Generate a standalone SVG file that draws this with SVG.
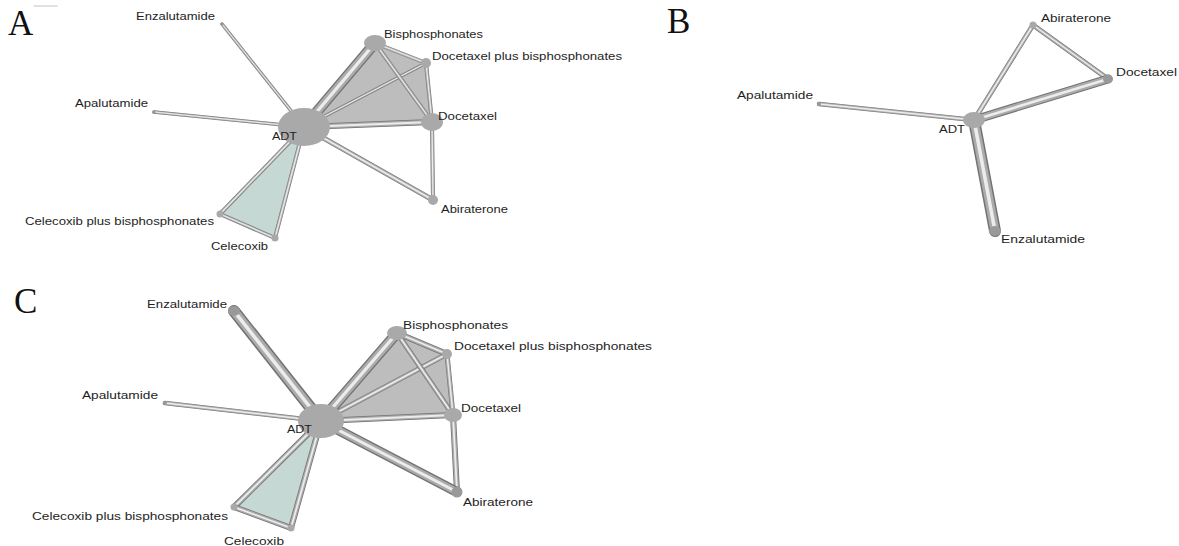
<svg xmlns="http://www.w3.org/2000/svg" width="1179" height="546" viewBox="0 0 1179 546">
<style>
.bg{fill:#ffffff}
.panel{font-family:"Liberation Serif","Times New Roman",serif;font-size:35px;fill:#111}
.lbl{font-family:"Liberation Sans",Arial,sans-serif;font-size:10px;fill:#1e1e1e}
.nd{fill:#a9a9a9}
.end{fill:#999999}
.grey{fill:#bdbdbd;stroke:none}
.teal{fill:#c6d8d4;stroke:none}
line{stroke-linecap:round;fill:none}
.o{stroke:#737373}
.m{stroke:#ababab}
.i{stroke:#ececec}
</style>
<rect class="bg" x="0" y="0" width="1179" height="546"/>
<line x1="34" y1="6" x2="57" y2="6" style="stroke:#d8d8d8;stroke-width:1.5"/>
<text class="panel" x="8" y="35">A</text>
<text class="panel" x="667" y="33">B</text>
<text class="panel" x="14" y="313">C</text>

<g id="connectors">
<!-- Panel A -->
<polygon class="grey" points="304,127 375,43 426,63 432,122"/>
<polygon class="teal" points="304,127 220,214 275,238"/>
<g><line class="o" x1="304" y1="127" x2="222" y2="24" stroke-width="3.5"/><line class="m" x1="304" y1="127" x2="222" y2="24" stroke-width="2.5"/><line class="i" x1="304" y1="127" x2="222" y2="24" stroke-width="1"/></g>
<g><line class="o" x1="304" y1="127" x2="154" y2="112" stroke-width="3.5"/><line class="m" x1="304" y1="127" x2="154" y2="112" stroke-width="2.5"/><line class="i" x1="304" y1="127" x2="154" y2="112" stroke-width="1"/></g>
<g><line class="o" x1="304" y1="127" x2="220" y2="214" stroke-width="4"/><line class="m" x1="304" y1="127" x2="220" y2="214" stroke-width="3"/><line class="i" x1="304" y1="127" x2="220" y2="214" stroke-width="1.2"/></g>
<g><line class="o" x1="304" y1="127" x2="275" y2="238" stroke-width="4"/><line class="m" x1="304" y1="127" x2="275" y2="238" stroke-width="3"/><line class="i" x1="304" y1="127" x2="275" y2="238" stroke-width="1.2"/></g>
<g><line class="o" x1="220" y1="214" x2="275" y2="238" stroke-width="4"/><line class="m" x1="220" y1="214" x2="275" y2="238" stroke-width="3"/><line class="i" x1="220" y1="214" x2="275" y2="238" stroke-width="1.2"/></g>
<g><line class="o" x1="304" y1="127" x2="426" y2="63" stroke-width="3.5"/><line class="m" x1="304" y1="127" x2="426" y2="63" stroke-width="2.5"/><line class="i" x1="304" y1="127" x2="426" y2="63" stroke-width="1"/></g>
<g><line class="o" x1="375" y1="43" x2="432" y2="122" stroke-width="4"/><line class="m" x1="375" y1="43" x2="432" y2="122" stroke-width="3"/><line class="i" x1="375" y1="43" x2="432" y2="122" stroke-width="1.2"/></g>
<g><line class="o" x1="375" y1="43" x2="426" y2="63" stroke-width="4"/><line class="m" x1="375" y1="43" x2="426" y2="63" stroke-width="3"/><line class="i" x1="375" y1="43" x2="426" y2="63" stroke-width="1.2"/></g>
<g><line class="o" x1="426" y1="63" x2="432" y2="122" stroke-width="4"/><line class="m" x1="426" y1="63" x2="432" y2="122" stroke-width="3"/><line class="i" x1="426" y1="63" x2="432" y2="122" stroke-width="1.2"/></g>
<g><line class="o" x1="432" y1="122" x2="433" y2="200" stroke-width="4"/><line class="m" x1="432" y1="122" x2="433" y2="200" stroke-width="3"/><line class="i" x1="432" y1="122" x2="433" y2="200" stroke-width="1.2"/></g>
<g><line class="o" x1="304" y1="127" x2="433" y2="200" stroke-width="5"/><line class="m" x1="304" y1="127" x2="433" y2="200" stroke-width="3.8"/><line class="i" x1="304" y1="127" x2="433" y2="200" stroke-width="1.5"/></g>
<g><line class="o" x1="304" y1="127" x2="432" y2="122" stroke-width="6"/><line class="m" x1="304" y1="127" x2="432" y2="122" stroke-width="4.5"/><line class="i" x1="304" y1="127" x2="432" y2="122" stroke-width="1.8"/></g>
<g><line class="o" x1="304" y1="127" x2="375" y2="43" stroke-width="11"/><line class="m" x1="304" y1="127" x2="375" y2="43" stroke-width="8.2"/><line class="i" x1="304" y1="127" x2="375" y2="43" stroke-width="3.2"/></g>

<!-- Panel B -->
<g><line class="o" x1="974" y1="120" x2="819" y2="104" stroke-width="4.5"/><line class="m" x1="974" y1="120" x2="819" y2="104" stroke-width="3.4"/><line class="i" x1="974" y1="120" x2="819" y2="104" stroke-width="1.4"/></g>
<g><line class="o" x1="974" y1="120" x2="1033" y2="25" stroke-width="5"/><line class="m" x1="974" y1="120" x2="1033" y2="25" stroke-width="3.8"/><line class="i" x1="974" y1="120" x2="1033" y2="25" stroke-width="1.5"/></g>
<g><line class="o" x1="1033" y1="25" x2="1108" y2="79" stroke-width="5"/><line class="m" x1="1033" y1="25" x2="1108" y2="79" stroke-width="3.8"/><line class="i" x1="1033" y1="25" x2="1108" y2="79" stroke-width="1.5"/></g>
<g><line class="o" x1="974" y1="120" x2="1108" y2="79" stroke-width="9"/><line class="m" x1="974" y1="120" x2="1108" y2="79" stroke-width="6.8"/><line class="i" x1="974" y1="120" x2="1108" y2="79" stroke-width="2.7"/></g>
<g><line class="o" x1="974" y1="120" x2="995" y2="231" stroke-width="12"/><line class="m" x1="974" y1="120" x2="995" y2="231" stroke-width="9"/><line class="i" x1="974" y1="120" x2="995" y2="231" stroke-width="3.6"/></g>

<!-- Panel C -->
<polygon class="grey" points="321,421 397,333 447,354 453,415"/>
<polygon class="teal" points="321,421 234,507 291,528"/>
<g><line class="o" x1="321" y1="421" x2="234" y2="311" stroke-width="12"/><line class="m" x1="321" y1="421" x2="234" y2="311" stroke-width="9"/><line class="i" x1="321" y1="421" x2="234" y2="311" stroke-width="3.6"/></g>
<g><line class="o" x1="321" y1="421" x2="165" y2="403" stroke-width="4.5"/><line class="m" x1="321" y1="421" x2="165" y2="403" stroke-width="3.4"/><line class="i" x1="321" y1="421" x2="165" y2="403" stroke-width="1.4"/></g>
<g><line class="o" x1="321" y1="421" x2="234" y2="507" stroke-width="6"/><line class="m" x1="321" y1="421" x2="234" y2="507" stroke-width="4.5"/><line class="i" x1="321" y1="421" x2="234" y2="507" stroke-width="1.8"/></g>
<g><line class="o" x1="321" y1="421" x2="291" y2="528" stroke-width="6"/><line class="m" x1="321" y1="421" x2="291" y2="528" stroke-width="4.5"/><line class="i" x1="321" y1="421" x2="291" y2="528" stroke-width="1.8"/></g>
<g><line class="o" x1="234" y1="507" x2="291" y2="528" stroke-width="6"/><line class="m" x1="234" y1="507" x2="291" y2="528" stroke-width="4.5"/><line class="i" x1="234" y1="507" x2="291" y2="528" stroke-width="1.8"/></g>
<g><line class="o" x1="321" y1="421" x2="447" y2="354" stroke-width="5"/><line class="m" x1="321" y1="421" x2="447" y2="354" stroke-width="3.8"/><line class="i" x1="321" y1="421" x2="447" y2="354" stroke-width="1.5"/></g>
<g><line class="o" x1="397" y1="333" x2="453" y2="415" stroke-width="5"/><line class="m" x1="397" y1="333" x2="453" y2="415" stroke-width="3.8"/><line class="i" x1="397" y1="333" x2="453" y2="415" stroke-width="1.5"/></g>
<g><line class="o" x1="397" y1="333" x2="447" y2="354" stroke-width="6"/><line class="m" x1="397" y1="333" x2="447" y2="354" stroke-width="4.5"/><line class="i" x1="397" y1="333" x2="447" y2="354" stroke-width="1.8"/></g>
<g><line class="o" x1="447" y1="354" x2="453" y2="415" stroke-width="5"/><line class="m" x1="447" y1="354" x2="453" y2="415" stroke-width="3.8"/><line class="i" x1="447" y1="354" x2="453" y2="415" stroke-width="1.5"/></g>
<g><line class="o" x1="453" y1="415" x2="457" y2="492" stroke-width="6"/><line class="m" x1="453" y1="415" x2="457" y2="492" stroke-width="4.5"/><line class="i" x1="453" y1="415" x2="457" y2="492" stroke-width="1.8"/></g>
<g><line class="o" x1="321" y1="421" x2="453" y2="415" stroke-width="6"/><line class="m" x1="321" y1="421" x2="453" y2="415" stroke-width="4.5"/><line class="i" x1="321" y1="421" x2="453" y2="415" stroke-width="1.8"/></g>
<g><line class="o" x1="321" y1="421" x2="457" y2="492" stroke-width="10"/><line class="m" x1="321" y1="421" x2="457" y2="492" stroke-width="7.5"/><line class="i" x1="321" y1="421" x2="457" y2="492" stroke-width="3"/></g>
<g><line class="o" x1="321" y1="421" x2="397" y2="333" stroke-width="11"/><line class="m" x1="321" y1="421" x2="397" y2="333" stroke-width="8.2"/><line class="i" x1="321" y1="421" x2="397" y2="333" stroke-width="3.2"/></g>
</g>

<!-- Panel A nodes -->
<g id="a-adt"><ellipse class="nd" cx="304" cy="127" rx="26" ry="19"/><text class="lbl" x="272" y="140" textLength="25" lengthAdjust="spacingAndGlyphs">ADT</text></g>
<g id="a-enzalutamide"><circle class="end" cx="222" cy="24" r="1.6"/><text class="lbl" x="136" y="20" textLength="79" lengthAdjust="spacingAndGlyphs">Enzalutamide</text></g>
<g id="a-apalutamide"><circle class="end" cx="154" cy="112" r="1.6"/><text class="lbl" x="75" y="106.5" textLength="73" lengthAdjust="spacingAndGlyphs">Apalutamide</text></g>
<g id="a-celecoxib-bis"><circle class="nd" cx="220" cy="214" r="3.5"/><text class="lbl" x="25" y="225" textLength="189" lengthAdjust="spacingAndGlyphs">Celecoxib plus bisphosphonates</text></g>
<g id="a-celecoxib"><circle class="nd" cx="275" cy="238" r="3.5"/><text class="lbl" x="211" y="250" textLength="57" lengthAdjust="spacingAndGlyphs">Celecoxib</text></g>
<g id="a-bisphosphonates"><ellipse class="nd" cx="375" cy="43" rx="11" ry="8"/><text class="lbl" x="384" y="37.5" textLength="99" lengthAdjust="spacingAndGlyphs">Bisphosphonates</text></g>
<g id="a-docetaxel-bis"><circle class="nd" cx="426" cy="63" r="5"/><text class="lbl" x="432" y="60" textLength="190" lengthAdjust="spacingAndGlyphs">Docetaxel plus bisphosphonates</text></g>
<g id="a-docetaxel"><ellipse class="nd" cx="432" cy="122" rx="11" ry="9"/><text class="lbl" x="438" y="120" textLength="59" lengthAdjust="spacingAndGlyphs">Docetaxel</text></g>
<g id="a-abiraterone"><circle class="nd" cx="433" cy="200" r="5"/><text class="lbl" x="441" y="212.5" textLength="67" lengthAdjust="spacingAndGlyphs">Abiraterone</text></g>

<!-- Panel B nodes -->
<g id="b-adt"><ellipse class="nd" cx="974" cy="120" rx="11" ry="8"/><text class="lbl" x="939" y="133" textLength="26" lengthAdjust="spacingAndGlyphs">ADT</text></g>
<g id="b-apalutamide"><circle class="end" cx="819" cy="104" r="2"/><text class="lbl" x="737" y="98.5" textLength="76" lengthAdjust="spacingAndGlyphs">Apalutamide</text></g>
<g id="b-abiraterone"><circle class="nd" cx="1033" cy="25" r="3.5"/><text class="lbl" x="1041" y="21.5" textLength="70" lengthAdjust="spacingAndGlyphs">Abiraterone</text></g>
<g id="b-docetaxel"><ellipse class="end" cx="1108" cy="79" rx="5" ry="4.5"/><text class="lbl" x="1116" y="76" textLength="61" lengthAdjust="spacingAndGlyphs">Docetaxel</text></g>
<g id="b-enzalutamide"><ellipse class="end" cx="995" cy="231" rx="6" ry="5"/><text class="lbl" x="1001" y="242.5" textLength="84" lengthAdjust="spacingAndGlyphs">Enzalutamide</text></g>

<!-- Panel C nodes -->
<g id="c-adt"><ellipse class="nd" cx="321" cy="421" rx="23" ry="17"/><text class="lbl" x="287" y="432.5" textLength="25" lengthAdjust="spacingAndGlyphs">ADT</text></g>
<g id="c-enzalutamide"><ellipse class="end" cx="234" cy="311" rx="6" ry="5"/><text class="lbl" x="147" y="308" textLength="80" lengthAdjust="spacingAndGlyphs">Enzalutamide</text></g>
<g id="c-apalutamide"><circle class="end" cx="165" cy="403" r="2"/><text class="lbl" x="82" y="399" textLength="76" lengthAdjust="spacingAndGlyphs">Apalutamide</text></g>
<g id="c-celecoxib-bis"><circle class="nd" cx="234" cy="507" r="3.5"/><text class="lbl" x="32" y="520" textLength="196" lengthAdjust="spacingAndGlyphs">Celecoxib plus bisphosphonates</text></g>
<g id="c-celecoxib"><circle class="nd" cx="291" cy="528" r="3.5"/><text class="lbl" x="224" y="545" textLength="60" lengthAdjust="spacingAndGlyphs">Celecoxib</text></g>
<g id="c-bisphosphonates"><ellipse class="nd" cx="397" cy="333" rx="10" ry="7"/><text class="lbl" x="403" y="328.5" textLength="105" lengthAdjust="spacingAndGlyphs">Bisphosphonates</text></g>
<g id="c-docetaxel-bis"><circle class="nd" cx="447" cy="354" r="5"/><text class="lbl" x="454" y="350" textLength="198" lengthAdjust="spacingAndGlyphs">Docetaxel plus bisphosphonates</text></g>
<g id="c-docetaxel"><ellipse class="nd" cx="453" cy="415" rx="9" ry="7"/><text class="lbl" x="461" y="411.5" textLength="60" lengthAdjust="spacingAndGlyphs">Docetaxel</text></g>
<g id="c-abiraterone"><circle class="end" cx="457" cy="492" r="5.5"/><text class="lbl" x="463" y="506" textLength="70" lengthAdjust="spacingAndGlyphs">Abiraterone</text></g>
</svg>
